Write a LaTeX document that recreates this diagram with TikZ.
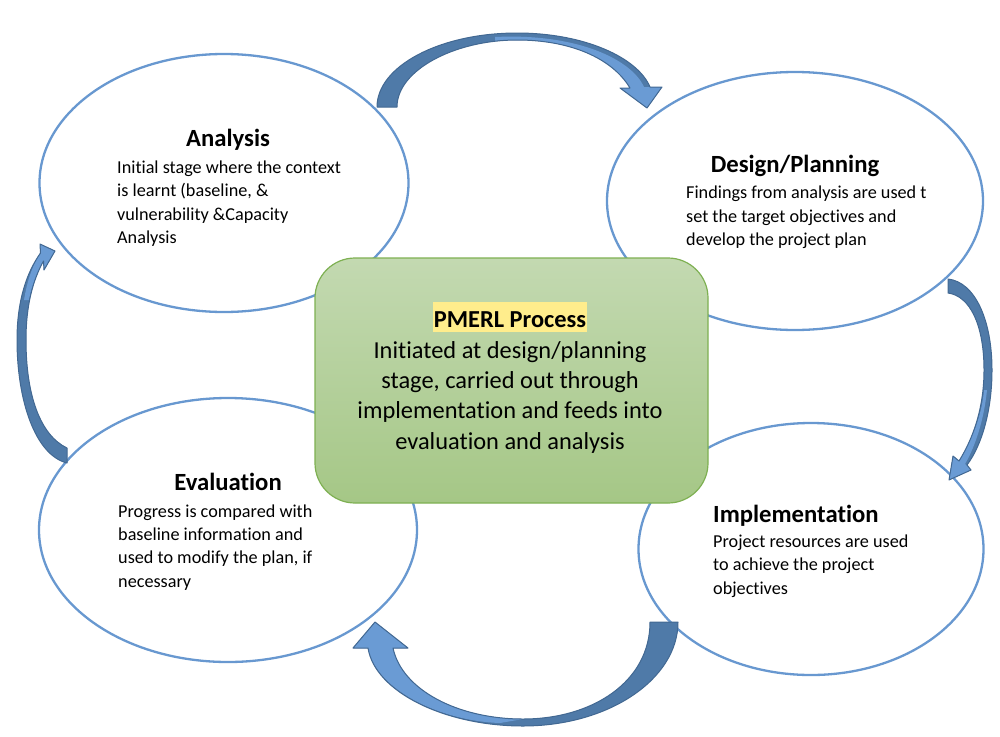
\documentclass[tikz,border=0pt]{standalone}
\usepackage{fontspec}
\setmainfont{Carlito}[Ligatures={NoCommon}]
\usetikzlibrary{shapes.geometric}
\definecolor{ellc}{RGB}{104,152,208}
\definecolor{darkA}{RGB}{79,122,168}
\definecolor{lightA}{RGB}{106,155,212}
\definecolor{edgeA}{RGB}{66,104,146}
\definecolor{gtop}{RGB}{195,217,177}
\definecolor{gbot}{RGB}{165,199,134}
\definecolor{gedge}{RGB}{126,176,82}
\definecolor{hl}{RGB}{255,237,140}
\tikzset{
  ell/.style={ellipse, draw=ellc, line width=2.3pt, fill=white, inner sep=0pt},
  ttl/.style={font=\fontsize{24.7}{28}\selectfont\bfseries, anchor=base, inner sep=0pt},
  ttlw/.style={font=\fontsize{24.7}{28}\selectfont\bfseries, anchor=base west, inner sep=0pt},
  bdy/.style={font=\fontsize{18.2}{22}\selectfont, anchor=base west, inner sep=0pt},
  ctr/.style={font=\fontsize{24.4}{28}\selectfont, anchor=base, inner sep=0pt},
  arrfill/.style={fill=darkA},
  arrfront/.style={fill=lightA},
  arrline/.style={draw=edgeA, line width=1pt, line join=round},
  pmbox/.style={draw=gedge, line width=1.2pt, rounded corners=40pt, top color=gtop, bottom color=gbot, inner sep=0pt},
}
\begin{document}
\begin{tikzpicture}[x=1pt,y=-1pt]
\useasboundingbox (0,0) rectangle (1000,736);

% stage ellipses
\node[ell, minimum width=369pt, minimum height=258pt] (anE) at (224,183) {};
\node[ell, minimum width=376pt, minimum height=258pt] (deE) at (795,201) {};
\node[ell, minimum width=378pt, minimum height=264pt] (evE) at (228,530) {};
\node[ell, minimum width=345pt, minimum height=252pt] (imE) at (811,549) {};

% top curved arrow
\fill[arrfill] (377,107) .. controls (377,66) and (440,33) .. (517,33) .. controls (585,33) and (638,58) .. (650,87) -- (662,87) -- (647,108) -- (620,88) -- (630,88) .. controls (612,58) and (570,40) .. (517,40) .. controls (455,40) and (397,70) .. (397,107) -- cycle;
\fill[arrfront] (495,37) .. controls (578,33) and (632,60) .. (644,87) -- (662,87) -- (647,108) -- (620,88) -- (630,88) .. controls (612,58) and (570,40) .. (517,40) .. controls (508,40) and (500,40) .. (495,41) -- cycle;
\draw[arrline] (377,107) .. controls (377,66) and (440,33) .. (517,33) .. controls (585,33) and (638,58) .. (650,87) -- (662,87) -- (647,108) -- (620,88) -- (630,88) .. controls (612,58) and (570,40) .. (517,40) .. controls (455,40) and (397,70) .. (397,107) -- cycle;

% right curved arrow
\fill[arrfill] (948,279) .. controls (975,282) and (992,320) .. (992,370) .. controls (992,410) and (982,445) .. (967,465) -- (971,470) -- (949,480) -- (953,456) -- (959,461) .. controls (972,440) and (984,410) .. (984,370) .. controls (984,325) and (970,296) .. (948,293) -- cycle;
\fill[arrfront] (987,390) .. controls (984,420) and (975,447) .. (965,464) -- (971,470) -- (949,480) -- (953,456) -- (959,461) .. controls (972,440) and (982,415) .. (984,390) -- cycle;
\draw[arrline] (948,279) .. controls (975,282) and (992,320) .. (992,370) .. controls (992,410) and (982,445) .. (967,465) -- (971,470) -- (949,480) -- (953,456) -- (959,461) .. controls (972,440) and (984,410) .. (984,370) .. controls (984,325) and (970,296) .. (948,293) -- cycle;

% left curved arrow
\fill[arrfill] (67,463) .. controls (35,455) and (17,400) .. (17,340) .. controls (17,300) and (27,272) .. (40.5,253) -- (40,244) -- (55,251) -- (44,270) -- (43.5,261) .. controls (33,280) and (26,305) .. (26,340) .. controls (26,395) and (40,435) .. (67,448) -- cycle;
\fill[arrfront] (40.5,253) -- (40,244) -- (55,251) -- (44,270) -- (43.5,261) .. controls (36,274) and (31,288) .. (29,300) -- (24,300) .. controls (27,282) and (32,266) .. (40.5,253) -- cycle;
\draw[arrline] (67,463) .. controls (35,455) and (17,400) .. (17,340) .. controls (17,300) and (27,272) .. (40.5,253) -- (40,244) -- (55,251) -- (44,270) -- (43.5,261) .. controls (33,280) and (26,305) .. (26,340) .. controls (26,395) and (40,435) .. (67,448) -- cycle;

% bottom curved arrow
\fill[arrfill] (650,622) -- (678,622) .. controls (678,679) and (609,726) .. (523,726) .. controls (445,726) and (375,692) .. (368,648) -- (353,648) -- (375,622) -- (408,648) -- (393,648) .. controls (402,690) and (458,719) .. (523,719) .. controls (592,719) and (650,682) .. (650,622) -- cycle;
\fill[arrfront] (368,648) -- (353,648) -- (375,622) -- (408,648) -- (393,648) .. controls (402,690) and (458,719) .. (523,719) -- (500,723) .. controls (440,721) and (376,690) .. (368,648) -- cycle;
\draw[arrline] (650,622) -- (678,622) .. controls (678,679) and (609,726) .. (523,726) .. controls (445,726) and (375,692) .. (368,648) -- (353,648) -- (375,622) -- (408,648) -- (393,648) .. controls (402,690) and (458,719) .. (523,719) .. controls (592,719) and (650,682) .. (650,622) -- cycle;

% central box
\node[pmbox, minimum width=393pt, minimum height=245pt] (pm) at (511.5,380.5) {};
\node[fill=hl, anchor=base, inner xsep=1pt, inner ysep=0pt, text height=25pt, text depth=5pt, font=\fontsize{24.4}{28}\selectfont\bfseries] (pmT) at (510,327) {PMERL Process};
\node[ctr] (c1) at (510,358) {Initiated at design/planning};
\node[ctr] (c2) at (510,388) {stage, carried out through};
\node[ctr] (c3) at (510,418) {implementation and feeds into};
\node[ctr] (c4) at (510,449) {evaluation and analysis};

% Analysis text
\node[ttl] (anT) at (228,146) {Analysis};
\node[bdy] (an1) at (117,173) {Initial stage where the context};
\node[bdy] (an2) at (117,196.5) {is learnt (baseline, \&};
\node[bdy] (an3) at (117,220) {vulnerability \&Capacity};
\node[bdy] (an4) at (117,243.5) {Analysis};

% Design text
\node[ttl] (deT) at (795,172) {Design/Planning};
\node[bdy] (de1) at (686,198) {Findings from analysis are used t};
\node[bdy] (de2) at (686,222) {set the target objectives and};
\node[bdy] (de3) at (686,245.5) {develop the project plan};

% Evaluation text
\node[ttl] (evT) at (228,490) {Evaluation};
\node[bdy] (ev1) at (118,517) {Progress is compared with};
\node[bdy] (ev2) at (118,540) {baseline information and};
\node[bdy] (ev3) at (118,563.5) {used to modify the plan, if};
\node[bdy] (ev4) at (118,587) {necessary};

% Implementation text
\node[ttlw] (imT) at (713,522) {Implementation};
\node[bdy] (im1) at (713,547) {Project resources are used};
\node[bdy] (im2) at (713,570.5) {to achieve the project};
\node[bdy] (im3) at (713,594) {objectives};
\end{tikzpicture}
\end{document}
